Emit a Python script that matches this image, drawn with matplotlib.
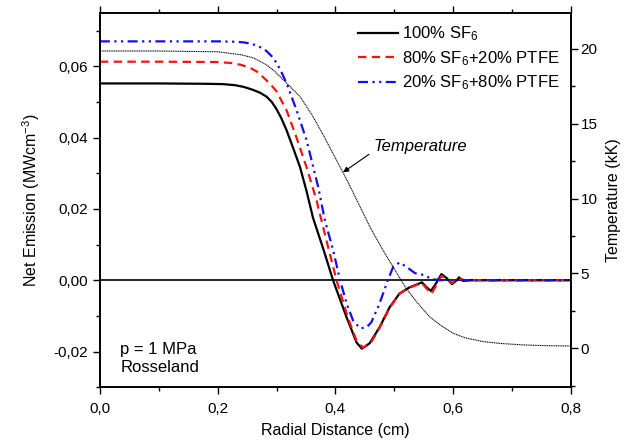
import matplotlib
matplotlib.use("Agg")
import matplotlib.pyplot as plt
from matplotlib.ticker import FuncFormatter, MultipleLocator

plt.rcParams['font.family'] = ['Liberation Sans', 'DejaVu Sans']
plt.rcParams['mathtext.fontset'] = 'custom'
plt.rcParams['mathtext.rm'] = 'Liberation Sans'
plt.rcParams['mathtext.it'] = 'Liberation Sans:italic'

# 100% SF6
x_sf6 = [0.00, 0.10, 0.18, 0.21, 0.23, 0.245, 0.26, 0.272, 0.283, 0.292, 0.300, 0.308,
         0.317, 0.328, 0.340, 0.351, 0.362, 0.380,
         0.396, 0.419, 0.436, 0.445, 0.458, 0.475, 0.492, 0.509, 0.526, 0.547, 0.555,
         0.562, 0.569, 0.580, 0.589, 0.598, 0.606, 0.610, 0.617, 0.63, 0.80]
y_sf6 = [0.0552, 0.0552, 0.0551, 0.0550, 0.0547, 0.0542, 0.0534, 0.0526, 0.0515, 0.0500,
         0.0480, 0.0455, 0.0421, 0.0372, 0.0317, 0.0250,
         0.0175, 0.0085, 0.0, -0.0104, -0.0175, -0.0192, -0.0177, -0.0132, -0.0076,
         -0.0037, -0.0020, -0.0006, -0.0020, -0.0030, -0.0014, 0.0017, 0.0006, -0.0011,
         0.0, 0.0008, -0.0002, 0.0, 0.0]

# 80% SF6 + 20% PTFE
x_mix1 = [0.00, 0.10, 0.20, 0.225, 0.240, 0.255, 0.267, 0.277, 0.288, 0.300, 0.317, 0.334,
          0.351, 0.368, 0.385, 0.402, 0.421, 0.436, 0.447, 0.460, 0.475, 0.492, 0.509,
          0.526, 0.547, 0.555, 0.563, 0.570, 0.580, 0.589, 0.598, 0.608, 0.62, 0.63, 0.80]
y_mix1 = [0.0613, 0.0613, 0.0612, 0.0609, 0.0604, 0.0596, 0.0585, 0.0570, 0.0553, 0.0530,
          0.0477, 0.0400, 0.0317, 0.0224, 0.0110, 0.0, -0.0104, -0.0170, -0.0189,
          -0.0176, -0.0134, -0.0078, -0.0038, -0.0021, -0.0008, -0.0024, -0.0038,
          -0.0018, 0.0012, 0.0004, -0.0008, 0.0005, 0.0, 0.0, 0.0]

# 20% SF6 + 80% PTFE
x_mix2 = [0.00, 0.10, 0.20, 0.23, 0.245, 0.258, 0.270, 0.283, 0.292, 0.300, 0.308, 0.317,
          0.334, 0.351, 0.371, 0.382, 0.396, 0.408, 0.419, 0.430, 0.442, 0.453, 0.461,
          0.475, 0.489, 0.498, 0.509, 0.521, 0.535, 0.552, 0.563, 0.58, 0.80]
y_mix2 = [0.0670, 0.0670, 0.0670, 0.0669, 0.0667, 0.0663, 0.0656, 0.0643, 0.0628, 0.0610,
          0.0585, 0.0553, 0.0477, 0.0393, 0.0260, 0.0169, 0.0085, 0.0, -0.0065, -0.0113,
          -0.0135, -0.0132, -0.0118, -0.0065, 0.0, 0.0037, 0.0050, 0.0037, 0.0020, 0.0014,
          0.0003, 0.0, 0.0]

# Temperature (kK)
x_temp = [0.00, 0.10, 0.20, 0.24, 0.26, 0.28, 0.294, 0.32, 0.34, 0.36, 0.38, 0.40, 0.42,
          0.44, 0.46, 0.48, 0.50, 0.52, 0.54, 0.56, 0.58, 0.60, 0.62, 0.65, 0.68, 0.72,
          0.76, 0.80]
y_temp = [19.85, 19.85, 19.8, 19.6, 19.4, 19.0, 18.6, 17.6, 16.8, 15.6, 14.2, 12.7, 11.2,
          9.6, 8.0, 6.6, 5.3, 4.0, 3.0, 2.1, 1.5, 1.0, 0.7, 0.45, 0.32, 0.22, 0.17, 0.15]

labels = ['100% SF$_6$', '80% SF$_6$+20% PTFE', '20% SF$_6$+80% PTFE']

fig = plt.figure(figsize=(6.24, 4.43), dpi=100)
ax = fig.add_axes([0.160, 0.126, 0.755, 0.845])
ax2 = ax.twinx()

ax.axhline(0, color='black', lw=1.2, zorder=1)
l1, = ax.plot(x_sf6, y_sf6, color='black', lw=1.6, label=labels[0], zorder=3)
l2, = ax.plot(x_mix1, y_mix1, color='#ff1010', lw=1.6, linestyle=(0, (3.8, 2.4)),
              label=labels[1], zorder=4)
l3, = ax.plot(x_mix2, y_mix2, color='#1010ee', lw=1.6,
              linestyle=(0, (4.5, 2, 1, 2, 1, 2)), label=labels[2], zorder=5)
ax2.plot(x_temp, y_temp, color='black', lw=0.8, linestyle=(0, (1, 0.6)))

ax.set_xlim(0, 0.8)
ax.set_ylim(-0.030, 0.075)
ax2.set_ylim(-2.6, 22.4)

comma = lambda fmt: FuncFormatter(lambda v, p: (fmt % v).replace('.', ','))
ax.xaxis.set_major_locator(MultipleLocator(0.2))
ax.xaxis.set_minor_locator(MultipleLocator(0.1))
ax.xaxis.set_major_formatter(comma('%.1f'))
ax.yaxis.set_major_locator(MultipleLocator(0.02))
ax.yaxis.set_minor_locator(MultipleLocator(0.01))
ax.yaxis.set_major_formatter(comma('%.2f'))
ax2.yaxis.set_major_locator(MultipleLocator(5))
ax2.yaxis.set_minor_locator(MultipleLocator(2.5))

for a in (ax, ax2):
    a.tick_params(which='major', direction='out', length=5, width=1, labelsize=11)
    a.tick_params(which='minor', direction='out', length=3, width=1)
    for s in a.spines.values():
        s.set_linewidth(1.2)
ax.tick_params(axis='x', which='both', top=True)
ax.tick_params(axis='x', pad=6)
ax2.tick_params(axis='y', pad=2)

ax.set_xlabel('Radial Distance (cm)', fontsize=11.5, labelpad=5)
ax.set_ylabel('Net Emission (MWcm$^{-3}$)', fontsize=11.5, labelpad=8)
ax2.set_ylabel('Temperature (kK)', fontsize=11.5, labelpad=6)

ax.legend(handles=[l1, l2, l3], loc='upper right', frameon=False, fontsize=12,
          handlelength=2.4, handletextpad=0.2, labelspacing=0.35,
          bbox_to_anchor=(1.0, 1.0), borderaxespad=0.3)

ax2.text(0.545, 13.5, 'Temperature', fontsize=12, style='italic',
         ha='center', va='center')
ax2.annotate('', xy=(0.413, 11.75), xytext=(0.457, 12.95),
             arrowprops=dict(arrowstyle='-|>', color='black', lw=0.8,
                             shrinkA=0, shrinkB=0, mutation_scale=8))

ax.text(0.035, -0.022, 'p = 1 MPa\nRosseland', fontsize=12, ha='left', va='center',
        linespacing=1.3)

fig.savefig('out.png', dpi=100)
